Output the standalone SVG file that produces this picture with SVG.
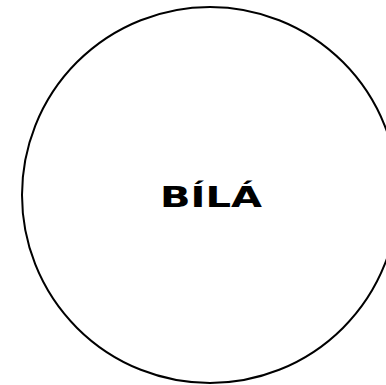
<svg xmlns="http://www.w3.org/2000/svg" width="386" height="385" viewBox="0 0 386 385">
<style>
.node{fill:#ffffff;stroke:#000000;stroke-width:2}
.label{font-family:"DejaVu Sans","Liberation Sans",sans-serif;font-weight:bold;font-size:29px;fill:#000000}
</style>
<rect width="386" height="385" fill="#ffffff"/>
<g id="connectors"></g>
<g id="node-bila">
<circle class="node" cx="210" cy="195" r="188"/>
<text class="label" x="211" y="207" text-anchor="middle" textLength="102" lengthAdjust="spacingAndGlyphs">BÍLÁ</text>
</g>
</svg>
